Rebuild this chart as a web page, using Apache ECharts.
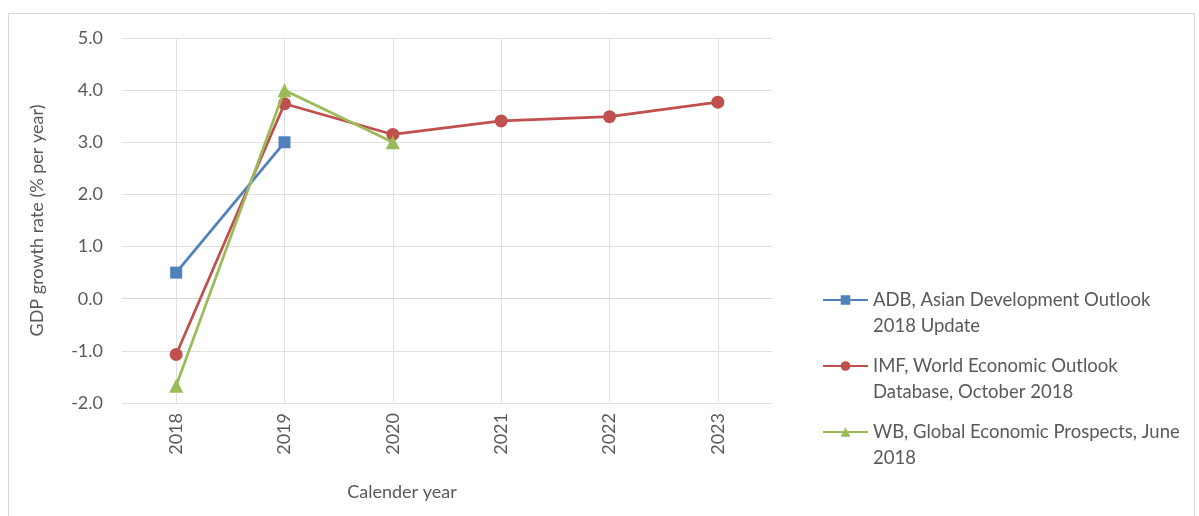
<!DOCTYPE html>
<html><head><meta charset="utf-8">
<script src="https://cdn.jsdelivr.net/npm/echarts@6/dist/echarts.min.js"></script>
<style>html,body{margin:0;padding:0;background:#fff}#c{width:1199px;height:516px}</style>
</head><body><div id="c"></div>
<script>
const years = ['2018','2019','2020','2021','2022','2023'];
const adb = [0.5, 3.0, null, null, null, null];
const imf = [-1.07, 3.74, 3.15, 3.41, 3.49, 3.77];
const wb = [-1.67, 4.0, 3.0, null, null, null];
const seriesNames = ['ADB, Asian Development Outlook\n2018 Update','IMF, World Economic Outlook\nDatabase, October 2018','WB, Global Economic Prospects, June\n2018'];
const colors = ['#4f81bd','#c0504d','#9bbb59'];
const font = 'Lato, "Open Sans", sans-serif';
const txt = '#595959';
const legendTops = [261, 327, 393];
const chart = echarts.init(document.getElementById('c'), null, {renderer:'canvas'});
chart.setOption({
  animation:false,
  graphic:[{type:'rect',shape:{x:8.5,y:13.5,width:1186,height:520},style:{fill:null,stroke:'#d9d9d9',lineWidth:1},silent:true}],
  grid:{left:122,right:427,top:38,bottom:113},
  legend:seriesNames.map((n,i)=>({orient:'vertical',left:822,top:legendTops[i],padding:0,itemWidth:45,itemHeight:12,
    formatter:name=>'\n'+name,
    textStyle:{fontFamily:font,fontSize:18.5,color:txt,lineHeight:26},
    data:[n]})),
  xAxis:{type:'category',data:years,boundaryGap:true,
    name:'Calender year',nameLocation:'middle',nameGap:80,
    nameTextStyle:{fontFamily:font,fontSize:18,color:txt,padding:[0,90,0,0]},
    axisLine:{show:true,lineStyle:{color:'#d9d9d9',width:1}},
    axisTick:{show:false},
    axisLabel:{rotate:90,fontFamily:font,fontSize:18,color:txt,margin:10},
    splitLine:{show:false}},
  yAxis:{type:'value',min:-2,max:5,interval:1,
    name:'GDP growth rate (% per year)',nameLocation:'middle',nameGap:76,
    nameTextStyle:{fontFamily:font,fontSize:18,color:txt},
    axisLine:{show:false},axisTick:{show:false},
    axisLabel:{fontFamily:font,fontSize:18,color:txt,margin:19,formatter:v=>v.toFixed(1)},
    splitLine:{lineStyle:{color:'#e0e0e0',width:1}}},
  series:[
    {name:seriesNames[0],type:'line',data:adb,symbol:'rect',symbolSize:12,z:3,
      itemStyle:{color:colors[0]},lineStyle:{width:2.75,color:colors[0]}},
    {name:seriesNames[1],type:'line',data:imf,symbol:'circle',symbolSize:13,z:2,
      itemStyle:{color:colors[1]},lineStyle:{width:2.75,color:colors[1]},
      markLine:{silent:true,symbol:'none',label:{show:false},z:1,
        lineStyle:{color:'#e0e0e0',width:1,type:'solid'},
        data:years.map(y=>({xAxis:y}))}},
    {name:seriesNames[2],type:'line',data:wb,symbol:'triangle',symbolSize:14,z:4,
      itemStyle:{color:colors[2]},lineStyle:{width:2.75,color:colors[2]}}
  ]
});
</script></body></html>
